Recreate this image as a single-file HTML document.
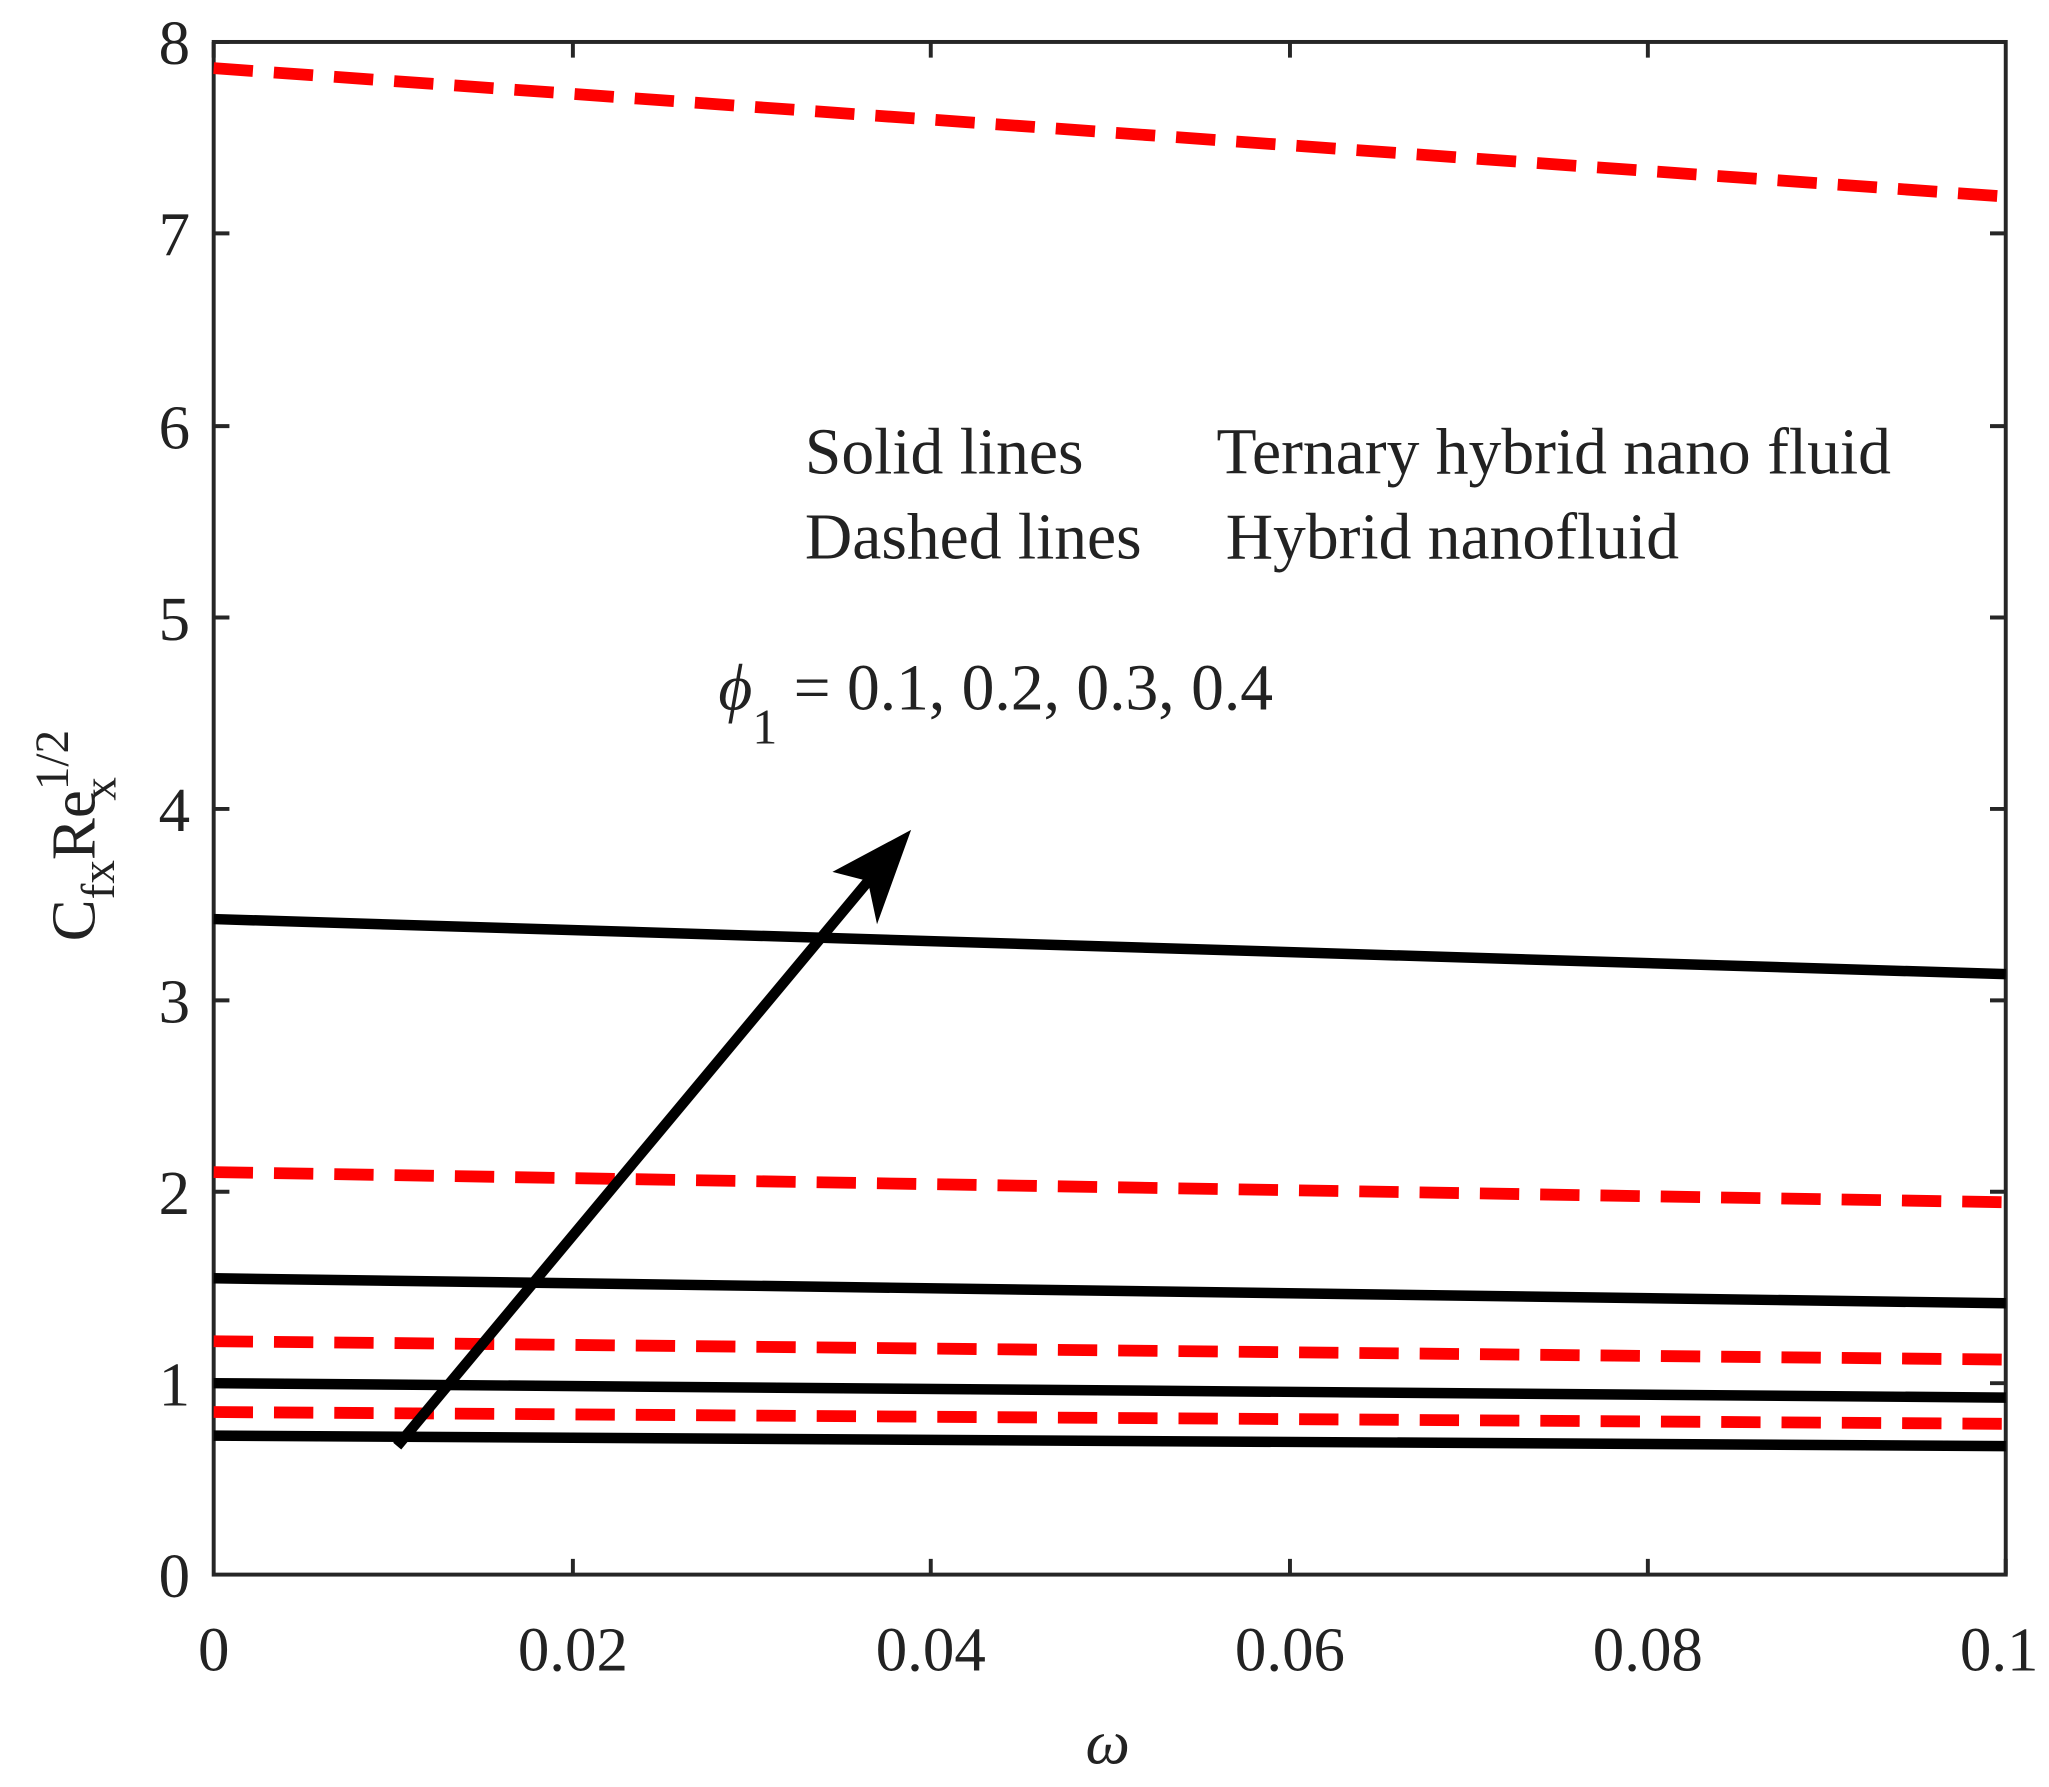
<!DOCTYPE html>
<html><head><style>html,body{margin:0;padding:0;background:#fff;}svg{display:block}</style></head>
<body>
<svg width="2049" height="1787" viewBox="0 0 1563 1363" preserveAspectRatio="none" xmlns="http://www.w3.org/2000/svg" font-family="Liberation Serif, serif" fill="#222">
<g stroke="#262626" stroke-width="3" fill="none">
<rect x="163" y="32" width="1367" height="1169"/>
<path d="M163,32v12M437,1201v-12M437,32v12M710,1201v-12M710,32v12M984,1201v-12M984,32v12M1257,1201v-12M1257,32v12M1530,1201v-12"/>
<path d="M163,1055h12M1530,1055h-12M163,909h12M1530,909h-12M163,763h12M1530,763h-12M163,617h12M1530,617h-12M163,471h12M1530,471h-12M163,325h12M1530,325h-12M163,178h12M1530,178h-12M163,32h12M1530,32h-12"/>
</g>
<g font-size="48" text-anchor="end">
<text x="145" y="1218">0</text><text x="145" y="1072">1</text><text x="145" y="926">2</text><text x="145" y="780">3</text><text x="145" y="634">4</text><text x="145" y="488">5</text><text x="145" y="342">6</text><text x="145" y="195">7</text><text x="145" y="49">8</text>
</g>
<g font-size="48" text-anchor="middle">
<text x="163" y="1274">0</text><text x="437" y="1274">0.02</text><text x="710" y="1274">0.04</text><text x="984" y="1274">0.06</text><text x="1257" y="1274">0.08</text><text x="1525" y="1274">0.1</text>
</g>
<text x="845" y="1345" font-size="48" font-style="italic" text-anchor="middle">ω</text>
<text transform="translate(72,718) rotate(-90)" font-size="48">C<tspan font-size="36" dy="15">fx</tspan><tspan dy="-15">Re</tspan><tspan font-size="36" dy="-20">1/2</tspan><tspan font-size="36" dx="-54" dy="36">x</tspan></text>
<g font-size="50">
<text x="614" y="361">Solid lines</text><text x="928" y="361">Ternary hybrid nano fluid</text>
<text x="614" y="426">Dashed lines</text><text x="935" y="426">Hybrid nanofluid</text>
<text x="548" y="541"><tspan font-style="italic">ϕ</tspan><tspan font-size="38" dy="26">1</tspan><tspan dy="-26"> = 0.1, 0.2, 0.3, 0.4</tspan></text>
</g>
<g stroke="#f00" stroke-width="9" stroke-dasharray="30,16" fill="none">
<path d="M163,52L1530,150"/><path d="M163,894L1530,917"/><path d="M163,1023L1530,1037"/><path d="M163,1077L1530,1086"/>
</g>
<g stroke="#000" stroke-width="8" fill="none">
<path d="M163,701L1530,743"/><path d="M163,975L1530,994"/><path d="M163,1055L1530,1066"/><path d="M163,1095L1530,1103"/>
<path d="M303,1103L684,646"/>
</g>
<path d="M695,633L635,665L662,672L669,705Z" fill="#000"/>
</svg>
</body></html>
